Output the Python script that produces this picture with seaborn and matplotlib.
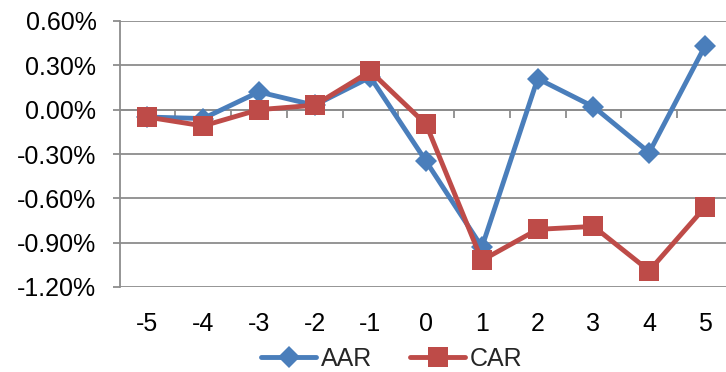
import matplotlib
matplotlib.use("Agg")
import matplotlib.pyplot as plt
import matplotlib.ticker as mticker
from matplotlib.lines import Line2D
import numpy as np
import pandas as pd
import seaborn as sns

# Event window (days relative to the event) and abnormal returns in percent
days = [-5, -4, -3, -2, -1, 0, 1, 2, 3, 4, 5]
aar = [-0.05, -0.06, 0.12, 0.03, 0.22, -0.35, -0.93, 0.21, 0.02, -0.29, 0.43]
car = [-0.05, -0.11, 0.00, 0.03, 0.26, -0.10, -1.02, -0.81, -0.79, -1.09, -0.66]
series_names = ["AAR", "CAR"]
y_ticks = [-1.20, -0.90, -0.60, -0.30, 0.00, 0.30, 0.60]

BLUE = "#4A7EBB"
RED = "#BE4B48"
GRID = "#8C8C8C"
LW = 3.5

sns.set_theme(style="white")
plt.rcParams["font.family"] = ["Liberation Sans", "DejaVu Sans"]

df = pd.DataFrame({
    "day": days * 2,
    "value": aar + car,
    "series": [series_names[0]] * len(days) + [series_names[1]] * len(days),
})

fig = plt.figure(figsize=(7.26, 3.72), dpi=100)
ax = fig.add_axes([120 / 726, 1 - 287 / 372, 1 - 120 / 726, (287 - 21) / 372])

ax.set_ylim(y_ticks[0], y_ticks[-1])
ax.set_xlim(days[0] - 0.49, days[-1] + 0.377)

# horizontal gridlines
for yv in y_ticks:
    ax.axhline(yv, color=GRID, lw=1.3, zorder=0.5)

sns.lineplot(data=df[df.series == "AAR"], x="day", y="value", ax=ax,
             color=BLUE, lw=LW, marker="D", markersize=11.5,
             markeredgewidth=0, legend=False, zorder=3)
sns.lineplot(data=df[df.series == "CAR"], x="day", y="value", ax=ax,
             color=RED, lw=LW, marker="s", markersize=14,
             markeredgewidth=0, legend=False, zorder=4)

ax.set_xlabel("")
ax.set_ylabel("")
ax.set_xticks(days)
ax.set_xticklabels([str(d) for d in days])
ax.set_yticks(y_ticks)
ax.yaxis.set_major_formatter(mticker.FuncFormatter(lambda v, p: f"{v:.2f}%"))

for side in ["top", "right", "bottom"]:
    ax.spines[side].set_visible(False)
ax.spines["left"].set_color(GRID)
ax.spines["left"].set_linewidth(1.3)

ax.tick_params(axis="x", length=0, labelsize=18, pad=18, colors="black")
ax.tick_params(axis="y", length=5, width=1.3, color=GRID, labelsize=18,
               pad=12, labelcolor="black", left=True, direction="out")

# category axis running along the zero line with boundary ticks pointing down
zero_pos = (0 - y_ticks[0]) / (y_ticks[-1] - y_ticks[0])
sec = ax.secondary_xaxis(zero_pos)
for s in sec.spines.values():
    s.set_color(GRID)
    s.set_linewidth(1.3)
sec.set_xticks(np.arange(days[0] + 0.5, days[-1], 1.0))
sec.set_xticklabels([])
sec.xaxis.set_ticks_position("bottom")
sec.tick_params(axis="x", which="both", length=6, width=1.3, color=GRID,
                direction="out", labelbottom=False, labeltop=False)

handles = [
    Line2D([], [], color=BLUE, lw=LW, marker="D", markersize=11.5, markeredgewidth=0),
    Line2D([], [], color=RED, lw=LW, marker="s", markersize=14, markeredgewidth=0),
]
fig.legend(handles, series_names, loc="center", bbox_to_anchor=(0.54, 0.035),
           ncol=2, frameon=False, fontsize=18, handlelength=2.2,
           handletextpad=0.2, columnspacing=1.5)

fig.savefig("out.png", dpi=100)
